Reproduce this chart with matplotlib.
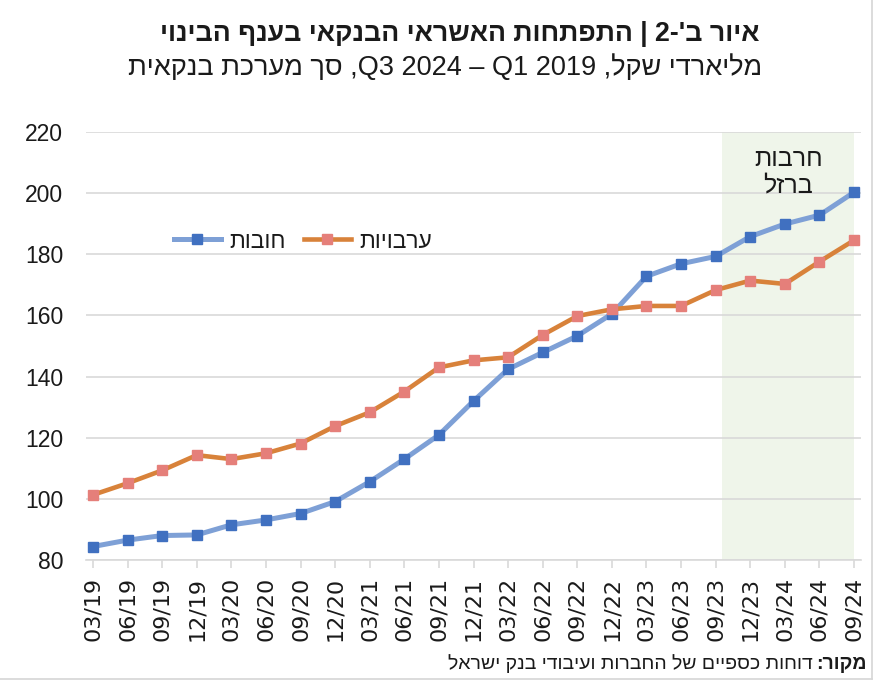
import re
import matplotlib
matplotlib.use("Agg")
import matplotlib.pyplot as plt
from matplotlib.lines import Line2D

# data (billions NIS)
quarters = ["03/19", "06/19", "09/19", "12/19", "03/20", "06/20", "09/20", "12/20",
            "03/21", "06/21", "09/21", "12/21", "03/22", "06/22", "09/22", "12/22",
            "03/23", "06/23", "09/23", "12/23", "03/24", "06/24", "09/24"]
debts = [84.4, 86.5, 88.0, 88.2, 91.5, 93.1, 95.2, 99.1, 105.6, 113.0, 120.9, 132.0,
         142.4, 147.9, 153.3, 160.5, 172.8, 176.9, 179.3, 185.8, 189.9, 192.8, 200.3]
guarantees = [101.3, 105.1, 109.3, 114.3, 113.0, 114.9, 118.1, 123.8, 128.3, 135.1, 143.0, 145.3,
              146.3, 153.6, 159.8, 162.0, 163.1, 163.1, 168.3, 171.4, 170.3, 177.6, 184.6]
war_start = 18.18   # shading starts just after 09/23

title = "איור ב'-2 | התפתחות האשראי הבנקאי בענף הבינוי"
subtitle = "מליארדי שקל, Q3 2024 – Q1 2019, סך מערכת בנקאית"
label_debts = "חובות"
label_guar = "ערבויות"
war_label = ["חרבות", "ברזל"]
source_bold = "מקור:"
source_text = "דוחות כספיים של החברות ועיבודי בנק ישראל"

BLUE_LINE = "#7EA0D6"
BLUE_MARK = "#4070C0"
ORANGE_LINE = "#D8823A"
ORANGE_MARK = "#E57F7A"
SHADE = "#EFF5EA"
GRID = "#D9D9D9"
FONTS = ["Liberation Sans", "DejaVu Sans"]


def rtl(s):
    """matplotlib has no bidi: flip to visual order, keep latin/digit runs LTR."""
    v = s[::-1]
    return re.sub(r"[A-Za-z0-9][A-Za-z0-9 .\u2013\-]*[A-Za-z0-9]", lambda m: m.group(0)[::-1], v)


plt.rcParams["font.family"] = FONTS
plt.rcParams["text.color"] = "#1a1a1a"

fig = plt.figure(figsize=(8.81, 6.86), dpi=100, facecolor="white")
ax = fig.add_axes([86 / 881, 126 / 686, 775 / 881, 428 / 686])

x = list(range(len(quarters)))
ax.axvspan(war_start, len(quarters) - 1, color=SHADE, zorder=0, lw=0)
ax.plot(x, debts, color=BLUE_LINE, lw=3.6, marker="s", ms=7,
        mfc=BLUE_MARK, mec=BLUE_MARK, zorder=3)
ax.plot(x, guarantees, color=ORANGE_LINE, lw=3.3, marker="s", ms=7,
        mfc=ORANGE_MARK, mec=ORANGE_MARK, zorder=4)

ax.set_xlim(-0.2, len(quarters) - 1 + 0.2)
ax.set_ylim(80, 220)
ax.set_yticks(range(80, 221, 20))
ax.grid(axis="y", color=GRID, lw=1.2, zorder=1)
ax.set_axisbelow(True)
for s in ["top", "right", "left"]:
    ax.spines[s].set_visible(False)
ax.spines["bottom"].set_color(GRID)
ax.spines["bottom"].set_linewidth(1.2)
ax.set_xticks(x)
ax.set_xticklabels(quarters, rotation=90, fontsize=16, color="#1a1a1a", family="DejaVu Sans")
ax.tick_params(axis="x", length=6, width=1.2, color=GRID, pad=6)
ax.tick_params(axis="y", length=0, pad=16.5, labelsize=16.5, labelcolor="#1a1a1a")

ax.text(20.1, 206.8, "\n".join(rtl(t) for t in war_label), ha="center", va="center",
        fontsize=18, linespacing=1.15, zorder=5)

handles = [Line2D([], [], color=BLUE_LINE, lw=3.6, marker="s", ms=7, mfc=BLUE_MARK, mec=BLUE_MARK),
           Line2D([], [], color=ORANGE_LINE, lw=3.3, marker="s", ms=7, mfc=ORANGE_MARK, mec=ORANGE_MARK)]
fig.legend(handles, [rtl(label_debts), rtl(label_guar)], loc="center left",
           bbox_to_anchor=(174 / 881, 1 - 241 / 686), ncol=2, frameon=False, fontsize=16.5,
           borderpad=0, borderaxespad=0, handlelength=2.05, handletextpad=0.35, columnspacing=0.8)

fig.text(460 / 881, 1 - 34 / 686, rtl(title), ha="center", va="center", fontsize=19.3, fontweight="bold")
fig.text(445 / 881, 1 - 68 / 686, rtl(subtitle), ha="center", va="center", fontsize=19.5)

sb = fig.text(867 / 881, 1 - 669 / 686, rtl(source_bold), ha="right", va="baseline",
              fontsize=14, fontweight="bold")
fig.canvas.draw()
bb = sb.get_window_extent()
fig.text((bb.x0 - 4) / 881, 1 - 669 / 686, rtl(source_text), ha="right", va="baseline", fontsize=14)

# faint frame edges of the original screenshot
fig.add_artist(Line2D([872 / 881, 872 / 881], [1 - 679 / 686, 1.0], color="#D6D6D6", lw=1.2))
fig.add_artist(Line2D([0, 872 / 881], [1 - 679 / 686, 1 - 679 / 686], color="#D6D6D6", lw=1.2))

fig.savefig("out.png", dpi=100, facecolor="white")
